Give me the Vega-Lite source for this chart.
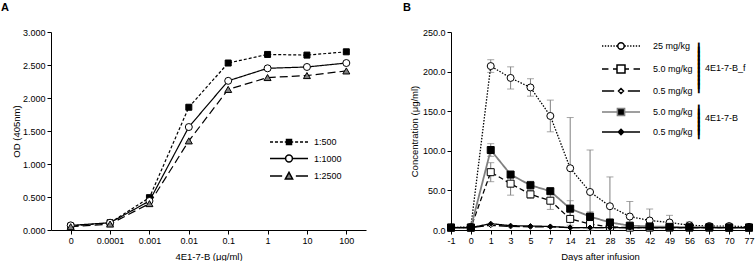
{
  "$schema": "https://vega.github.io/schema/vega-lite/v6.json",
  "padding": {"left": 1, "top": 2, "right": 0, "bottom": 0},
  "datasets": {
    "elisa": [
      {"conc": "0", "dil": "1:500", "od": 0.06}, {"conc": "0.0001", "dil": "1:500", "od": 0.11}, {"conc": "0.001", "dil": "1:500", "od": 0.49}, {"conc": "0.01", "dil": "1:500", "od": 1.86}, {"conc": "0.1", "dil": "1:500", "od": 2.53}, {"conc": "1", "dil": "1:500", "od": 2.66}, {"conc": "10", "dil": "1:500", "od": 2.65}, {"conc": "100", "dil": "1:500", "od": 2.70},
      {"conc": "0", "dil": "1:1000", "od": 0.07}, {"conc": "0.0001", "dil": "1:1000", "od": 0.11}, {"conc": "0.001", "dil": "1:1000", "od": 0.44}, {"conc": "0.01", "dil": "1:1000", "od": 1.56}, {"conc": "0.1", "dil": "1:1000", "od": 2.26}, {"conc": "1", "dil": "1:1000", "od": 2.45}, {"conc": "10", "dil": "1:1000", "od": 2.47}, {"conc": "100", "dil": "1:1000", "od": 2.53},
      {"conc": "0", "dil": "1:2500", "od": 0.05}, {"conc": "0.0001", "dil": "1:2500", "od": 0.09}, {"conc": "0.001", "dil": "1:2500", "od": 0.40}, {"conc": "0.01", "dil": "1:2500", "od": 1.35}, {"conc": "0.1", "dil": "1:2500", "od": 2.13}, {"conc": "1", "dil": "1:2500", "od": 2.31}, {"conc": "10", "dil": "1:2500", "od": 2.34}, {"conc": "100", "dil": "1:2500", "od": 2.41}
    ],
    "pk": [
      {"day": -1, "series": "f25", "group": "4E1-7-B_f", "dose": "25 mg/kg", "conc": 3, "err": 0},
      {"day": 0, "series": "f25", "group": "4E1-7-B_f", "dose": "25 mg/kg", "conc": 4, "err": 0},
      {"day": 1, "series": "f25", "group": "4E1-7-B_f", "dose": "25 mg/kg", "conc": 207, "err": 8},
      {"day": 3, "series": "f25", "group": "4E1-7-B_f", "dose": "25 mg/kg", "conc": 192, "err": 14},
      {"day": 5, "series": "f25", "group": "4E1-7-B_f", "dose": "25 mg/kg", "conc": 180, "err": 11},
      {"day": 7, "series": "f25", "group": "4E1-7-B_f", "dose": "25 mg/kg", "conc": 144, "err": 20},
      {"day": 14, "series": "f25", "group": "4E1-7-B_f", "dose": "25 mg/kg", "conc": 78, "err": 64},
      {"day": 21, "series": "f25", "group": "4E1-7-B_f", "dose": "25 mg/kg", "conc": 48, "err": 53},
      {"day": 28, "series": "f25", "group": "4E1-7-B_f", "dose": "25 mg/kg", "conc": 30, "err": 37},
      {"day": 35, "series": "f25", "group": "4E1-7-B_f", "dose": "25 mg/kg", "conc": 17, "err": 19},
      {"day": 42, "series": "f25", "group": "4E1-7-B_f", "dose": "25 mg/kg", "conc": 12, "err": 14.5},
      {"day": 49, "series": "f25", "group": "4E1-7-B_f", "dose": "25 mg/kg", "conc": 9.5, "err": 9},
      {"day": 56, "series": "f25", "group": "4E1-7-B_f", "dose": "25 mg/kg", "conc": 6, "err": 4},
      {"day": 63, "series": "f25", "group": "4E1-7-B_f", "dose": "25 mg/kg", "conc": 5, "err": 2},
      {"day": 70, "series": "f25", "group": "4E1-7-B_f", "dose": "25 mg/kg", "conc": 5, "err": 2},
      {"day": 77, "series": "f25", "group": "4E1-7-B_f", "dose": "25 mg/kg", "conc": 4, "err": 1},
      {"day": -1, "series": "f5", "group": "4E1-7-B_f", "dose": "5.0 mg/kg", "conc": 3, "err": 0},
      {"day": 0, "series": "f5", "group": "4E1-7-B_f", "dose": "5.0 mg/kg", "conc": 3, "err": 0},
      {"day": 1, "series": "f5", "group": "4E1-7-B_f", "dose": "5.0 mg/kg", "conc": 73, "err": 12},
      {"day": 3, "series": "f5", "group": "4E1-7-B_f", "dose": "5.0 mg/kg", "conc": 58.5, "err": 14.5},
      {"day": 5, "series": "f5", "group": "4E1-7-B_f", "dose": "5.0 mg/kg", "conc": 45, "err": 5},
      {"day": 7, "series": "f5", "group": "4E1-7-B_f", "dose": "5.0 mg/kg", "conc": 37, "err": 11},
      {"day": 14, "series": "f5", "group": "4E1-7-B_f", "dose": "5.0 mg/kg", "conc": 14, "err": 8},
      {"day": 21, "series": "f5", "group": "4E1-7-B_f", "dose": "5.0 mg/kg", "conc": 7.5, "err": 4},
      {"day": 28, "series": "f5", "group": "4E1-7-B_f", "dose": "5.0 mg/kg", "conc": 4, "err": 1},
      {"day": 35, "series": "f5", "group": "4E1-7-B_f", "dose": "5.0 mg/kg", "conc": 3, "err": 0},
      {"day": 42, "series": "f5", "group": "4E1-7-B_f", "dose": "5.0 mg/kg", "conc": 3, "err": 0},
      {"day": 49, "series": "f5", "group": "4E1-7-B_f", "dose": "5.0 mg/kg", "conc": 3, "err": 0},
      {"day": 56, "series": "f5", "group": "4E1-7-B_f", "dose": "5.0 mg/kg", "conc": 3, "err": 0},
      {"day": 63, "series": "f5", "group": "4E1-7-B_f", "dose": "5.0 mg/kg", "conc": 3, "err": 0},
      {"day": 70, "series": "f5", "group": "4E1-7-B_f", "dose": "5.0 mg/kg", "conc": 3, "err": 0},
      {"day": 77, "series": "f5", "group": "4E1-7-B_f", "dose": "5.0 mg/kg", "conc": 3, "err": 0},
      {"day": -1, "series": "f05", "group": "4E1-7-B_f", "dose": "0.5 mg/kg", "conc": 3, "err": 0},
      {"day": 0, "series": "f05", "group": "4E1-7-B_f", "dose": "0.5 mg/kg", "conc": 3, "err": 0},
      {"day": 1, "series": "f05", "group": "4E1-7-B_f", "dose": "0.5 mg/kg", "conc": 6, "err": 0},
      {"day": 3, "series": "f05", "group": "4E1-7-B_f", "dose": "0.5 mg/kg", "conc": 4.5, "err": 0},
      {"day": 5, "series": "f05", "group": "4E1-7-B_f", "dose": "0.5 mg/kg", "conc": 4, "err": 0},
      {"day": 7, "series": "f05", "group": "4E1-7-B_f", "dose": "0.5 mg/kg", "conc": 4, "err": 0},
      {"day": 14, "series": "f05", "group": "4E1-7-B_f", "dose": "0.5 mg/kg", "conc": 3, "err": 0},
      {"day": 21, "series": "f05", "group": "4E1-7-B_f", "dose": "0.5 mg/kg", "conc": 3, "err": 0},
      {"day": 28, "series": "f05", "group": "4E1-7-B_f", "dose": "0.5 mg/kg", "conc": 3, "err": 0},
      {"day": 35, "series": "f05", "group": "4E1-7-B_f", "dose": "0.5 mg/kg", "conc": 3, "err": 0},
      {"day": 42, "series": "f05", "group": "4E1-7-B_f", "dose": "0.5 mg/kg", "conc": 3, "err": 0},
      {"day": 49, "series": "f05", "group": "4E1-7-B_f", "dose": "0.5 mg/kg", "conc": 3, "err": 0},
      {"day": 56, "series": "f05", "group": "4E1-7-B_f", "dose": "0.5 mg/kg", "conc": 3, "err": 0},
      {"day": 63, "series": "f05", "group": "4E1-7-B_f", "dose": "0.5 mg/kg", "conc": 3, "err": 0},
      {"day": 70, "series": "f05", "group": "4E1-7-B_f", "dose": "0.5 mg/kg", "conc": 3, "err": 0},
      {"day": 77, "series": "f05", "group": "4E1-7-B_f", "dose": "0.5 mg/kg", "conc": 3, "err": 0},
      {"day": -1, "series": "b5", "group": "4E1-7-B", "dose": "5.0 mg/kg", "conc": 3, "err": 0},
      {"day": 0, "series": "b5", "group": "4E1-7-B", "dose": "5.0 mg/kg", "conc": 3, "err": 0},
      {"day": 1, "series": "b5", "group": "4E1-7-B", "dose": "5.0 mg/kg", "conc": 101, "err": 8},
      {"day": 3, "series": "b5", "group": "4E1-7-B", "dose": "5.0 mg/kg", "conc": 70, "err": 4},
      {"day": 5, "series": "b5", "group": "4E1-7-B", "dose": "5.0 mg/kg", "conc": 56.5, "err": 5},
      {"day": 7, "series": "b5", "group": "4E1-7-B", "dose": "5.0 mg/kg", "conc": 49, "err": 3},
      {"day": 14, "series": "b5", "group": "4E1-7-B", "dose": "5.0 mg/kg", "conc": 27, "err": 10},
      {"day": 21, "series": "b5", "group": "4E1-7-B", "dose": "5.0 mg/kg", "conc": 17, "err": 6},
      {"day": 28, "series": "b5", "group": "4E1-7-B", "dose": "5.0 mg/kg", "conc": 9.5, "err": 3},
      {"day": 35, "series": "b5", "group": "4E1-7-B", "dose": "5.0 mg/kg", "conc": 5.5, "err": 1},
      {"day": 42, "series": "b5", "group": "4E1-7-B", "dose": "5.0 mg/kg", "conc": 4.5, "err": 1},
      {"day": 49, "series": "b5", "group": "4E1-7-B", "dose": "5.0 mg/kg", "conc": 4, "err": 0},
      {"day": 56, "series": "b5", "group": "4E1-7-B", "dose": "5.0 mg/kg", "conc": 3.5, "err": 0},
      {"day": 63, "series": "b5", "group": "4E1-7-B", "dose": "5.0 mg/kg", "conc": 3.5, "err": 0},
      {"day": 70, "series": "b5", "group": "4E1-7-B", "dose": "5.0 mg/kg", "conc": 3, "err": 0},
      {"day": 77, "series": "b5", "group": "4E1-7-B", "dose": "5.0 mg/kg", "conc": 3, "err": 0},
      {"day": -1, "series": "b05", "group": "4E1-7-B", "dose": "0.5 mg/kg", "conc": 3, "err": 0},
      {"day": 0, "series": "b05", "group": "4E1-7-B", "dose": "0.5 mg/kg", "conc": 3, "err": 0},
      {"day": 1, "series": "b05", "group": "4E1-7-B", "dose": "0.5 mg/kg", "conc": 8, "err": 0},
      {"day": 3, "series": "b05", "group": "4E1-7-B", "dose": "0.5 mg/kg", "conc": 5.5, "err": 0},
      {"day": 5, "series": "b05", "group": "4E1-7-B", "dose": "0.5 mg/kg", "conc": 5, "err": 0},
      {"day": 7, "series": "b05", "group": "4E1-7-B", "dose": "0.5 mg/kg", "conc": 4.5, "err": 0},
      {"day": 14, "series": "b05", "group": "4E1-7-B", "dose": "0.5 mg/kg", "conc": 3, "err": 0},
      {"day": 21, "series": "b05", "group": "4E1-7-B", "dose": "0.5 mg/kg", "conc": 3, "err": 0},
      {"day": 28, "series": "b05", "group": "4E1-7-B", "dose": "0.5 mg/kg", "conc": 3, "err": 0},
      {"day": 35, "series": "b05", "group": "4E1-7-B", "dose": "0.5 mg/kg", "conc": 3, "err": 0},
      {"day": 42, "series": "b05", "group": "4E1-7-B", "dose": "0.5 mg/kg", "conc": 3, "err": 0},
      {"day": 49, "series": "b05", "group": "4E1-7-B", "dose": "0.5 mg/kg", "conc": 3, "err": 0},
      {"day": 56, "series": "b05", "group": "4E1-7-B", "dose": "0.5 mg/kg", "conc": 3, "err": 0},
      {"day": 63, "series": "b05", "group": "4E1-7-B", "dose": "0.5 mg/kg", "conc": 3, "err": 0},
      {"day": 70, "series": "b05", "group": "4E1-7-B", "dose": "0.5 mg/kg", "conc": 3, "err": 0},
      {"day": 77, "series": "b05", "group": "4E1-7-B", "dose": "0.5 mg/kg", "conc": 3, "err": 0}
    ]
  },
  "config": {
    "view": {"stroke": null},
    "font": "Liberation Sans",
    "axis": {"labelFont": "Liberation Sans", "labelFontSize": 9, "labelColor": "#000", "titleFont": "Liberation Sans", "titleFontSize": 9.5, "titleFontWeight": "normal", "titleColor": "#000", "domainColor": "#000", "tickColor": "#000", "tickSize": 4, "grid": false, "labelPadding": 2},
    "legend": {"labelFont": "Liberation Sans", "labelFontSize": 9, "labelColor": "#000", "titleFont": "Liberation Sans", "titleFontSize": 9, "titleFontWeight": "normal", "titleColor": "#000", "padding": 0},
    "title": {"font": "Liberation Sans", "fontSize": 11, "fontWeight": "bold", "anchor": "start", "color": "#000"},
    "concat": {"spacing": 37}
  },
  "hconcat": [
    {
      "width": 315,
      "height": 198,
      "title": {"text": "A", "dx": -50, "offset": 15, "frame": "group"},
      "data": {"name": "elisa"},
      "encoding": {
        "x": {"field": "conc", "type": "ordinal", "sort": ["0", "0.0001", "0.001", "0.01", "0.1", "1", "10", "100"], "scale": {"type": "point", "padding": 0.5}, "axis": {"title": "4E1-7-B (μg/ml)", "labelAngle": 0, "titlePadding": 6}},
        "y": {"field": "od", "type": "quantitative", "scale": {"domain": [0, 3]}, "axis": {"title": "OD (405nm)", "values": [0, 0.5, 1, 1.5, 2, 2.5, 3], "format": ".3f", "titlePadding": 1}}
      },
      "layer": [
        {
          "mark": {"type": "line", "strokeWidth": 1.2, "color": "black"},
          "encoding": {"strokeDash": {"field": "dil", "type": "nominal", "scale": {"domain": ["1:500", "1:1000", "1:2500"], "range": [[3, 2], [1, 0], [8, 4]]}, "legend": null}}
        },
        {
          "mark": {"type": "point", "filled": true, "stroke": "black", "strokeWidth": 1, "opacity": 1},
          "encoding": {
            "shape": {"field": "dil", "type": "nominal", "scale": {"domain": ["1:500", "1:1000", "1:2500"], "range": ["square", "circle", "triangle-up"]}, "legend": null},
            "fill": {"field": "dil", "type": "nominal", "scale": {"domain": ["1:500", "1:1000", "1:2500"], "range": ["black", "white", "#808080"]}, "legend": null},
            "size": {"condition": {"test": "datum.dil === '1:500'", "value": 36}, "value": 49}
          }
        },
        {
          "transform": [{"filter": "false"}],
          "mark": {"type": "point", "filled": true, "stroke": "black", "strokeWidth": 1.2, "opacity": 1},
          "encoding": {
            "shape": {
              "field": "dil", "type": "nominal",
              "scale": {"domain": ["1:500", "1:1000", "1:2500"], "range": [
                "M-3.8,0H-3.19M-2.81,0H-2.2M-1.82,0H-1.22M-0.84,0H-0.5M-0.5,-0.5H0.5V0.5H-0.5ZM0.5,0H0.84M1.22,0H1.82M2.2,0H2.81M3.19,0H3.8",
                "M-3.8,0H-0.68M-0.68,0A0.68,0.68 0 1,0 0.68,0A0.68,0.68 0 1,0 -0.68,0ZM0.68,0H3.8",
                "M-3.8,0H-1.37M-0.72,0.58L0,-0.72L0.72,0.58ZM1.37,0H3.8"
              ]},
              "legend": {"orient": "none", "legendX": 232, "legendY": 104, "title": null, "symbolSize": 100, "rowPadding": 3.5, "labelOffset": 19}
            },
            "fill": {
              "field": "dil", "type": "nominal",
              "scale": {"domain": ["1:500", "1:1000", "1:2500"], "range": ["black", "white", "#808080"]},
              "legend": {"orient": "none", "legendX": 232, "legendY": 104, "title": null, "symbolSize": 100, "rowPadding": 3.5, "labelOffset": 19}
            }
          }
        }
      ],
      "resolve": {"scale": {"shape": "independent", "fill": "independent"}}
    },
    {
      "width": 298,
      "height": 198,
      "title": {"text": "B", "dx": -48, "offset": 15, "frame": "group"},
      "data": {"name": "pk"},
      "encoding": {
        "x": {"field": "day", "type": "ordinal", "scale": {"type": "point", "padding": 0}, "axis": {"title": "Days after infusion", "labelAngle": 0, "titlePadding": 6}},
        "y": {"field": "conc", "type": "quantitative", "scale": {"domain": [0, 250], "clamp": true}, "axis": {"title": "Concentration (μg/ml)", "values": [0, 50, 100, 150, 200, 250], "format": ".1f", "titlePadding": 3}}
      },
      "layer": [
        {
          "transform": [{"filter": "datum.err > 0"}],
          "mark": {"type": "errorbar", "color": "#808080", "ticks": {"size": 7}, "thickness": 1},
          "encoding": {"yError": {"field": "err"}}
        },
        {
          "mark": {"type": "line"},
          "encoding": {
            "detail": {"field": "series", "type": "nominal"},
            "stroke": {"condition": {"test": "datum.series === 'b5'", "value": "#808080"}, "value": "black"},
            "strokeDash": {"condition": [
              {"test": "datum.series === 'f25'", "value": [1.5, 1.5]},
              {"test": "datum.series === 'f5'", "value": [5, 3]},
              {"test": "datum.series === 'f05'", "value": [9, 3]}
            ], "value": [1, 0]},
            "strokeWidth": {"condition": {"test": "datum.series === 'b5'", "value": 1.8}, "value": 1.3}
          }
        },
        {
          "transform": [{"filter": "datum.group === '4E1-7-B_f'"}],
          "mark": {"type": "point", "filled": true, "fill": "white", "stroke": "black", "strokeWidth": 1, "opacity": 1},
          "encoding": {
            "shape": {"field": "dose", "type": "nominal", "scale": {"domain": ["25 mg/kg", "5.0 mg/kg", "0.5 mg/kg"], "range": ["circle", "square", "diamond"]}, "legend": null},
            "size": {"condition": {"test": "datum.dose === '0.5 mg/kg'", "value": 25}, "value": 49}
          }
        },
        {
          "transform": [{"filter": "datum.group === '4E1-7-B'"}],
          "mark": {"type": "point", "filled": true, "fill": "black", "stroke": "black", "strokeWidth": 1, "opacity": 1},
          "encoding": {
            "shape": {"field": "dose", "type": "nominal", "scale": {"domain": ["5.0 mg/kg", "0.5 mg/kg"], "range": ["square", "diamond"]}, "legend": null},
            "size": {"condition": {"test": "datum.dose === '0.5 mg/kg'", "value": 25}, "value": 49}
          }
        },
        {
          "transform": [{"filter": "false"}],
          "mark": {"type": "point", "filled": true, "fill": "white", "stroke": "black", "strokeWidth": 1.3, "opacity": 1},
          "encoding": {
            "shape": {
              "field": "dose", "type": "nominal",
              "scale": {"domain": ["25 mg/kg", "5.0 mg/kg", "0.5 mg/kg"], "range": [
                "M-3.8,0H-3.53M-3.23,0H-2.96M-2.66,0H-2.39M-2.09,0H-1.82M-1.52,0H-1.25M-0.99,0H-0.76M-0.65,0A0.65,0.65 0 1,0 0.65,0A0.65,0.65 0 1,0 -0.65,0ZM0.76,0H0.99M1.25,0H1.52M1.82,0H2.09M2.39,0H2.66M2.96,0H3.23M3.53,0H3.8",
                "M-3.8,0H-2.51M-1.6,0H-0.8M-0.8,-0.8H0.8V0.8H-0.8ZM0.8,0H1.6M2.51,0H3.8",
                "M-3.8,0H-1.37M0,-0.5L0.5,0L0,0.5L-0.5,0ZM1.37,0H3.8"
              ]},
              "legend": {
                "orient": "none", "legendX": 164, "legendY": 8,
                "title": ["\u00a0", "\u00a0", "▎", "▎", "▎", "▎", "▎", "▎4E1-7-B_f", "▎", "▎", "▎", "▎", "▎"],
                "titleOrient": "right", "titleAnchor": "start", "titleBaseline": "top", "titleLineHeight": 4, "titlePadding": 5,
                "symbolSize": 100, "rowPadding": 9, "labelOffset": 26
              }
            }
          }
        },
        {
          "transform": [{"filter": "false"}],
          "mark": {"type": "point", "filled": true, "fill": "black", "strokeWidth": 1.5, "opacity": 1},
          "encoding": {
            "shape": {
              "field": "dose", "type": "nominal",
              "scale": {"domain": ["5.0 mg/kg", "0.5 mg/kg"], "range": [
                "M-3.8,0H-0.72M-0.72,-0.72H0.72V0.72H-0.72ZM0.72,0H3.8",
                "M-3.8,0H3.8M0,-0.53L0.53,0L0,0.53L-0.53,0Z"
              ]},
              "legend": {
                "orient": "none", "legendX": 164, "legendY": 74,
                "title": ["▎", "▎", "▎4E1-7-B", "▎", "▎", "▎", "▎"],
                "titleOrient": "right", "titleAnchor": "start", "titleBaseline": "top", "titleLineHeight": 4, "titlePadding": 5,
                "symbolSize": 100, "rowPadding": 7, "labelOffset": 26
              }
            },
            "stroke": {
              "field": "dose", "type": "nominal",
              "scale": {"domain": ["5.0 mg/kg", "0.5 mg/kg"], "range": ["#808080", "black"]},
              "legend": {
                "orient": "none", "legendX": 164, "legendY": 74,
                "title": ["▎", "▎", "▎4E1-7-B", "▎", "▎", "▎", "▎"],
                "titleOrient": "right", "titleAnchor": "start", "titleBaseline": "top", "titleLineHeight": 4, "titlePadding": 5,
                "symbolSize": 100, "rowPadding": 7, "labelOffset": 26
              }
            }
          }
        }
      ],
      "resolve": {"scale": {"shape": "independent", "fill": "independent", "stroke": "independent"}}
    }
  ]
}
